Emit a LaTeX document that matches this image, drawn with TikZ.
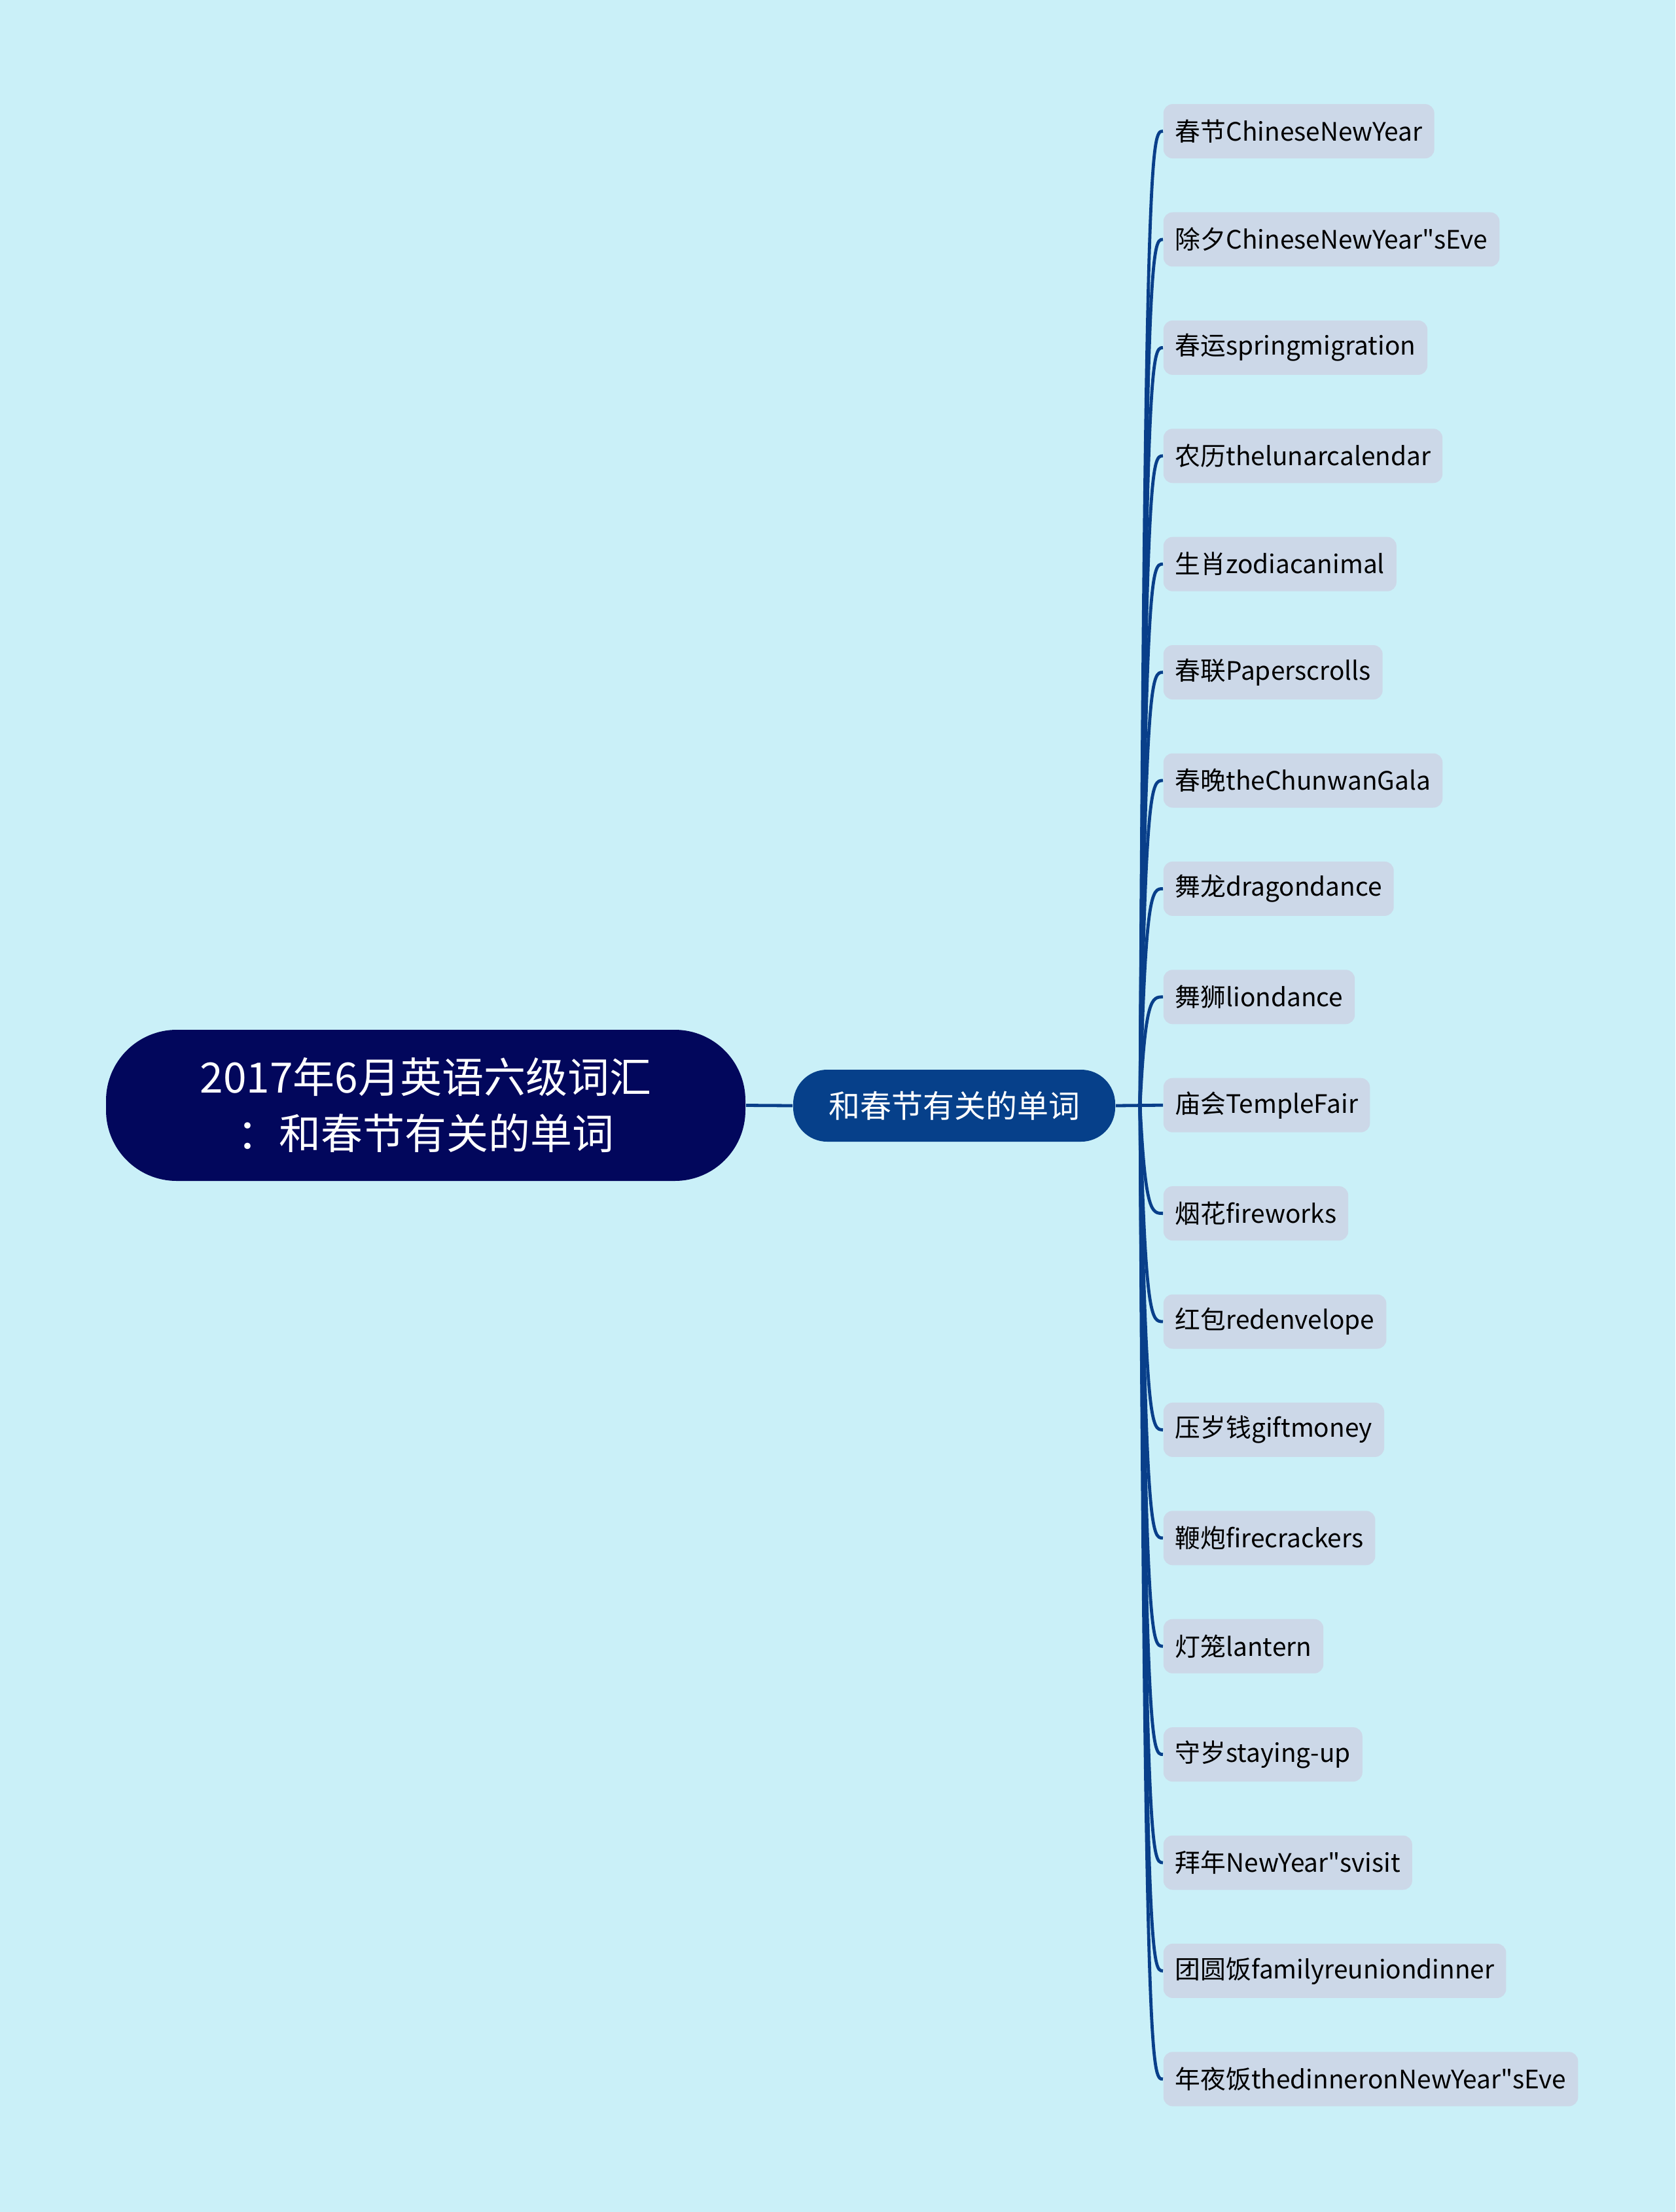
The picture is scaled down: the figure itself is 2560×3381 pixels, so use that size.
\documentclass[tikz,border=0pt]{standalone}
\usepackage{fontspec}
\setmainfont{Noto Sans CJK SC}[Ligatures=TeXOff]
\usetikzlibrary{positioning}

\definecolor{bgcyan}{RGB}{202,240,248}
\definecolor{rootnavy}{RGB}{2,7,92}
\definecolor{hubblue}{RGB}{6,64,138}
\definecolor{leafgrey}{RGB}{204,216,232}
\definecolor{linkblue}{RGB}{9,63,138}

\begin{document}
\begin{tikzpicture}[
  x=0.25pt, y=-0.25pt, node distance=41.35pt,
  root/.style={rectangle, rounded corners=27pt, fill=rootnavy, text=white, minimum width=244.25pt, minimum height=57.75pt, align=center, font=\fontsize{16}{21.5}\selectfont},
  hub/.style={rectangle, rounded corners=13pt, fill=hubblue, text=white, minimum width=123pt, minimum height=27.5pt, font=\fontsize{12}{14}\selectfont},
  leaf/.style={rectangle, rounded corners=3.5pt, fill=leafgrey, minimum height=20.75pt, inner xsep=4.5pt, anchor=west, font=\fontsize{9.7}{12}\selectfont},
  link/.style={draw=linkblue, line width=1.2pt}
]
  \fill[bgcyan] (0,0) rectangle (2560,3381);
  \useasboundingbox (0,0) rectangle (2560,3381);

  \node[root] (root) at (650.5,1689.5) {2017年6月英语六级词汇\\：和春节有关的单词};
  \node[hub] (words) at (1458,1690) {和春节有关的单词};
  \coordinate (fork) at (1742,1690);

  % leaves, top to bottom
  \node[leaf] (l1) at (1777,200.6) {春节ChineseNewYear};
  \node[below=of l1.west, leaf] (l2) {除夕ChineseNewYear"sEve};
  \node[below=of l2.west, leaf] (l3) {春运springmigration};
  \node[below=of l3.west, leaf] (l4) {农历thelunarcalendar};
  \node[below=of l4.west, leaf] (l5) {生肖zodiacanimal};
  \node[below=of l5.west, leaf] (l6) {春联Paperscrolls};
  \node[below=of l6.west, leaf] (l7) {春晚theChunwanGala};
  \node[below=of l7.west, leaf] (l8) {舞龙dragondance};
  \node[below=of l8.west, leaf] (l9) {舞狮liondance};
  \node[below=of l9.west, leaf] (l10) {庙会TempleFair};
  \node[below=of l10.west, leaf] (l11) {烟花fireworks};
  \node[below=of l11.west, leaf] (l12) {红包redenvelope};
  \node[below=of l12.west, leaf] (l13) {压岁钱giftmoney};
  \node[below=of l13.west, leaf] (l14) {鞭炮firecrackers};
  \node[below=of l14.west, leaf] (l15) {灯笼lantern};
  \node[below=of l15.west, leaf] (l16) {守岁staying-up};
  \node[below=of l16.west, leaf] (l17) {拜年NewYear"svisit};
  \node[below=of l17.west, leaf] (l18) {团圆饭familyreuniondinner};
  \node[below=of l18.west, leaf] (l19) {年夜饭thedinneronNewYear"sEve};

  \draw[link] (root.east) -- (words.west);
  \draw[link] (words.east) -- (l10.west);

  \draw[link] (fork) .. controls ([xshift=2pt]fork |- l1.west) and ([xshift=-4.25pt]l1.west) .. (l1.west);
  \draw[link] (fork) .. controls ([xshift=2pt]fork |- l2.west) and ([xshift=-4.25pt]l2.west) .. (l2.west);
  \draw[link] (fork) .. controls ([xshift=2pt]fork |- l3.west) and ([xshift=-4.25pt]l3.west) .. (l3.west);
  \draw[link] (fork) .. controls ([xshift=2pt]fork |- l4.west) and ([xshift=-4.25pt]l4.west) .. (l4.west);
  \draw[link] (fork) .. controls ([xshift=2pt]fork |- l5.west) and ([xshift=-4.25pt]l5.west) .. (l5.west);
  \draw[link] (fork) .. controls ([xshift=2pt]fork |- l6.west) and ([xshift=-4.25pt]l6.west) .. (l6.west);
  \draw[link] (fork) .. controls ([xshift=2pt]fork |- l7.west) and ([xshift=-4.25pt]l7.west) .. (l7.west);
  \draw[link] (fork) .. controls ([xshift=2pt]fork |- l8.west) and ([xshift=-4.25pt]l8.west) .. (l8.west);
  \draw[link] (fork) .. controls ([xshift=2pt]fork |- l9.west) and ([xshift=-4.25pt]l9.west) .. (l9.west);
  \draw[link] (fork) .. controls ([xshift=2pt]fork |- l11.west) and ([xshift=-4.25pt]l11.west) .. (l11.west);
  \draw[link] (fork) .. controls ([xshift=2pt]fork |- l12.west) and ([xshift=-4.25pt]l12.west) .. (l12.west);
  \draw[link] (fork) .. controls ([xshift=2pt]fork |- l13.west) and ([xshift=-4.25pt]l13.west) .. (l13.west);
  \draw[link] (fork) .. controls ([xshift=2pt]fork |- l14.west) and ([xshift=-4.25pt]l14.west) .. (l14.west);
  \draw[link] (fork) .. controls ([xshift=2pt]fork |- l15.west) and ([xshift=-4.25pt]l15.west) .. (l15.west);
  \draw[link] (fork) .. controls ([xshift=2pt]fork |- l16.west) and ([xshift=-4.25pt]l16.west) .. (l16.west);
  \draw[link] (fork) .. controls ([xshift=2pt]fork |- l17.west) and ([xshift=-4.25pt]l17.west) .. (l17.west);
  \draw[link] (fork) .. controls ([xshift=2pt]fork |- l18.west) and ([xshift=-4.25pt]l18.west) .. (l18.west);
  \draw[link] (fork) .. controls ([xshift=2pt]fork |- l19.west) and ([xshift=-4.25pt]l19.west) .. (l19.west);
\end{tikzpicture}
\end{document}
